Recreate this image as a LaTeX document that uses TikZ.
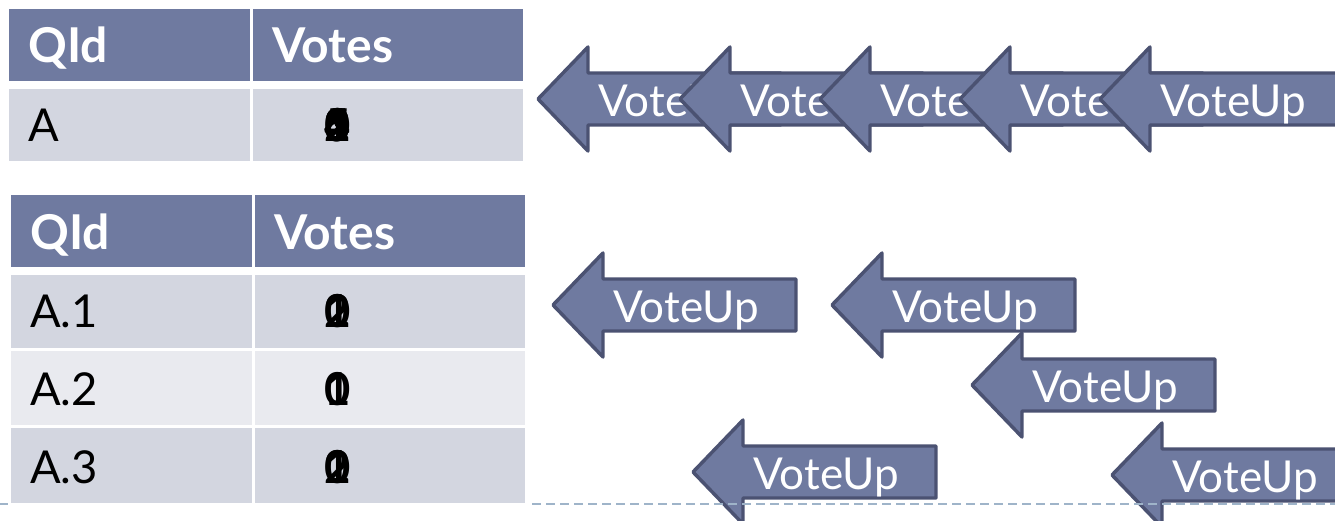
\documentclass[tikz,border=0pt]{standalone}
\usepackage{fontspec}
\setmainfont{Lato}
\usetikzlibrary{positioning}

\definecolor{hdrblue}{HTML}{6F7AA0}
\definecolor{arrowedge}{HTML}{4B5272}
\definecolor{rowdark}{HTML}{D3D6E0}
\definecolor{rowlight}{HTML}{E9EAEF}
\definecolor{dashblue}{HTML}{9FB4C9}

\tikzset{
  hdrtext/.style={text=white, font=\fontsize{36}{40}\selectfont\bfseries, anchor=base west, inner sep=0pt},
  celltext/.style={font=\fontsize{34}{38}\selectfont, anchor=base west, inner sep=0pt},
  digit/.style={font=\fontsize{34}{38}\selectfont\bfseries, anchor=base, inner sep=0pt},
  votearrow/.style={fill=hdrblue, draw=arrowedge, line width=2.6pt, line join=round},
  votelabel/.style={text=white, font=\fontsize{33}{36}\selectfont, anchor=base, inner sep=0pt},
  rule/.style={dashblue, line width=1.7pt, dash pattern=on 6.75pt off 3.75pt}
}

\begin{document}
\begin{tikzpicture}[x=0.75pt,y=-0.75pt]
 \useasboundingbox (0,0) rectangle (1335,521);

 % question table
 \foreach \xa/\xb in {9/250, 253/523} {
         \fill[hdrblue] (\xa,9) rectangle (\xb,81);
         \fill[rowdark] (\xa,89) rectangle (\xb,161);
 }
 \node[hdrtext] (qhQ) at (28,62) {QId};
 \node[hdrtext] (qhV) at (272,62) {Votes};
 \node[celltext] (qA) at (28,141) {A};
 \foreach \d in {0,...,5}
         \node[digit] (qA-v\d) at (338,141) {\d};

 %answer table
 \foreach \xa/\xb in {11/252, 255/525} {
         \fill[hdrblue] (\xa,195) rectangle (\xb,267);
         \fill[rowdark] (\xa,275) rectangle (\xb,348);
         \fill[rowlight] (\xa,351) rectangle (\xb,425);
         \fill[rowdark] (\xa,428) rectangle (\xb,503);
 }
 \node[hdrtext] (ahQ) at (30,249) {QId};
 \node[hdrtext] (ahV) at (274,249) {Votes};
 \foreach \r/\y/\m in {1/327/2, 2/405/1, 3/483/2} {
         \node[celltext] (a\r) at (30,\y) {A.\r};
         \foreach \d in {0,...,\m}
                 \node[digit] (a\r-v\d) at (338,\y) {\d};
 }

 % vote arrows
 \foreach \n/\x/\y in {u1/538/99, u2/680/99, u3/820/99, u4/960/99, u5/1100/99,
                       d1/553/305, d2/832/305, d3/972/385, d4/693/472, d5/1112/475} {
         \draw[votearrow] (\x,\y) -- ++(50,-52) -- ++(0,26) -- ++(193,0) -- ++(0,52)
                 -- ++(-193,0) -- ++(0,26) -- cycle;
         \node[votelabel] (\n) at (\x+133,\y+17) {VoteUp};
 }

 % dashed rule
 \coordinate (ruleL) at (0,504);
 \coordinate (ruleM) at (8,504);
 \coordinate (ruleN) at (532,504);
 \coordinate (ruleR) at (1335,504);
 \draw[rule] (ruleL) -- (ruleM);
 \draw[rule] (ruleN) -- (ruleR);

\end{tikzpicture}
\end{document}
